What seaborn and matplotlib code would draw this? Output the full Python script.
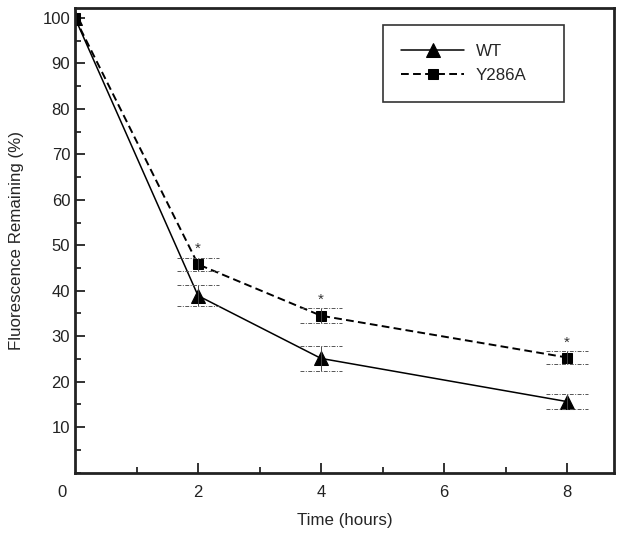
import numpy as np
import pandas as pd
import seaborn as sns
import matplotlib.pyplot as plt
import matplotlib.transforms as mtransforms
from matplotlib.ticker import MultipleLocator

# Values
time_h = [0, 2, 4, 8]
wt_mean = [100, 38.9, 25.1, 15.6]
wt_err = [0, 2.3, 2.8, 1.6]
y286a_mean = [100, 45.8, 34.5, 25.3]
y286a_err = [0, 1.5, 1.6, 1.5]
star_times = [2, 4, 8]
x_ticks = [0, 2, 4, 6, 8]
y_ticks = [10, 20, 30, 40, 50, 60, 70, 80, 90, 100]

df = pd.DataFrame({
    "Time": time_h * 2,
    "Fluorescence": wt_mean + y286a_mean,
    "Strain": ["WT"] * len(time_h) + ["Y286A"] * len(time_h),
})

sns.set_style("ticks")
plt.rcParams['font.family'] = ['Liberation Sans', 'DejaVu Sans']

fig = plt.figure(figsize=(6.22, 5.35), dpi=100)
ax = fig.add_axes([0.1206, 0.1168, 0.8664, 0.8682])

sns.lineplot(data=df, x="Time", y="Fluorescence", hue="Strain", style="Strain",
             palette={"WT": "black", "Y286A": "black"},
             markers={"WT": "^", "Y286A": "s"},
             dashes={"WT": "", "Y286A": (4, 2.2)},
             markersize=9, markeredgecolor="black", linewidth=1.1, ax=ax)

# marker sizes / dashed weight per series
for ln in ax.lines:
    if ln.get_marker() == "s":
        ln.set_markersize(7.5)
        ln.set_linewidth(1.4)
    elif ln.get_marker() == "^":
        ln.set_markersize(10)

# error bars: thin vertical line + wide dash-dot caps
cap_style = (0, (4, 1.5, 1, 1.5))
for means, errs in [(wt_mean, wt_err), (y286a_mean, y286a_err)]:
    t = np.array(time_h[1:])
    m = np.array(means[1:])
    e = np.array(errs[1:])
    ax.vlines(t, m - e, m + e, color="#444444", linewidth=0.7)
    ax.hlines(m + e, t - 0.34, t + 0.34, color="#555555", linewidth=0.7, linestyles=[cap_style])
    ax.hlines(m - e, t - 0.34, t + 0.34, color="#555555", linewidth=0.7, linestyles=[cap_style])

# significance asterisks above Y286A
for t in star_times:
    i = time_h.index(t)
    ax.text(t, y286a_mean[i] + y286a_err[i] + 0.3, "*", ha="center", va="bottom",
            fontsize=11, color="#333333")

ax.set_xlim(0, 8.76)
ax.set_ylim(0, 102.2)
ax.set_xticks(x_ticks)
ax.set_yticks(y_ticks)
ax.xaxis.set_minor_locator(MultipleLocator(1))
ax.yaxis.set_minor_locator(MultipleLocator(5))
ax.tick_params(which="major", direction="in", length=7, width=1.3, labelsize=12, colors="#222222")
ax.tick_params(which="minor", direction="in", length=4, width=1.3)
ax.tick_params(axis="both", which="both", right=False, top=False)
ax.tick_params(axis="x", pad=9)

for sp in ax.spines.values():
    sp.set_visible(True)
    sp.set_linewidth(2)
    sp.set_color("#222222")

ax.set_xlabel("Time (hours)", fontsize=12.2, labelpad=9)
ax.set_ylabel("Fluorescence Remaining (%)", fontsize=12.2, labelpad=13)

# shift the origin "0" label to the left of the corner
lbl0 = ax.get_xticklabels()[0]
lbl0.set_transform(lbl0.get_transform() + mtransforms.ScaledTranslation(-0.13, 0, fig.dpi_scale_trans))
ax.xaxis.get_major_ticks()[0].tick1line.set_visible(False)

leg = ax.legend(loc="upper left", bbox_to_anchor=(0.571, 0.5, 0.336, 0.463), mode="expand",
                fontsize=12.2, frameon=True, fancybox=False, edgecolor="black",
                handlelength=3.7, borderpad=1.1, labelspacing=0.55, handletextpad=0.7,
                borderaxespad=0)
leg.get_frame().set_linewidth(1.2)
for h in leg.legend_handles:
    if h.get_marker() == "s":
        h.set_markersize(7.5)
        h.set_linewidth(1.4)
    elif h.get_marker() == "^":
        h.set_markersize(10)

plt.savefig("out.png", dpi=100)
plt.close()
